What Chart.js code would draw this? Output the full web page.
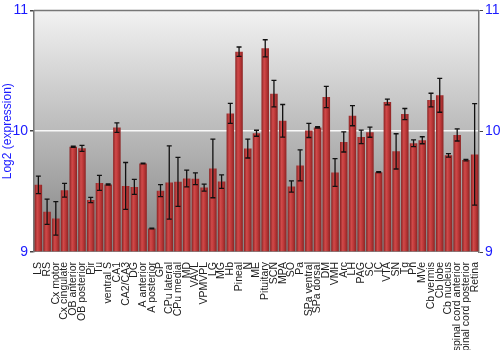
<!DOCTYPE html>
<html>
<head>
<meta charset="utf-8">
<script src="https://cdn.jsdelivr.net/npm/chart.js@4"></script>
<style>
  body { margin: 0; background: #fff; }
</style>
</head>
<body>
<canvas id="myChart" width="500" height="350"></canvas>
<script>
const regions = ["LS", "RS", "Cx motor", "Cx cingulate", "OB anterior", "OB posterior", "Pir", "Tu",
  "ventral S", "CA1", "CA2/CA3", "DG", "A anterior", "A posterior", "GP", "CPu lateral", "CPu medial",
  "MD", "VAVL", "VPMVPL", "LG", "MG", "Hb", "Pineal", "N", "ME", "Pituitary", "SCN", "MPA", "SO", "Pa",
  "SPa ventral", "SPa dorsal", "DM", "VMH", "Arc", "LH", "PAG", "SC", "IC", "VTA", "SN", "Tg", "Pn",
  "MVe", "Cb vermis", "Cb lobe", "Cb nucleus", "spinal cord anterior", "spinal cord posterior", "Retina"];

const expression = [9.556, 9.333, 9.278, 9.511, 9.872, 9.858, 9.431, 9.572,
  9.558, 10.03, 9.547, 9.539, 9.733, 9.194, 9.508, 9.575, 9.581,
  9.608, 9.606, 9.533, 9.692, 9.583, 10.147, 10.658, 9.856, 9.983, 10.686, 10.311, 10.086, 9.542, 9.717,
  10.006, 10.031, 10.283, 9.658, 9.911, 10.128, 9.953, 9.992, 9.661, 10.242, 9.833, 10.142, 9.9,
  9.925, 10.258, 10.297, 9.8, 9.969, 9.761, 9.808];

const errors = [0.072, 0.104, 0.139, 0.057, 0.005, 0.025, 0.022, 0.0625,
  0.005, 0.039, 0.194, 0.0625, 0.003, 0.003, 0.049, 0.303, 0.203,
  0.069, 0.049, 0.029, 0.243, 0.056, 0.083, 0.039, 0.078, 0.025, 0.071, 0.11, 0.135, 0.046, 0.128,
  0.058, 0.006, 0.0875, 0.115, 0.083, 0.083, 0.056, 0.042, 0.004, 0.024, 0.146, 0.046, 0.028,
  0.029, 0.056, 0.14, 0.014, 0.05, 0.006, 0.42];

const yTicks = [9, 10, 11];
const blue = "#1a1aff";

// grey gradient behind the plot, top border line
const backdrop = {
  id: "backdrop",
  beforeDraw(chart) {
    const a = chart.chartArea, c = chart.ctx;
    const g = c.createLinearGradient(0, a.top, 0, a.bottom);
    g.addColorStop(0, "#f2f2f2");
    g.addColorStop(1, "#828282");
    c.save();
    c.fillStyle = g;
    c.fillRect(a.left, a.top, a.right - a.left, a.bottom - a.top);
    c.restore();
  },
  afterDraw(chart) {
    const a = chart.chartArea, c = chart.ctx;
    c.save();
    c.strokeStyle = "#777";
    c.lineWidth = 1.5;
    c.beginPath();
    c.moveTo(a.left, a.top);
    c.lineTo(a.right, a.top);
    c.stroke();
    c.restore();
  }
};

// error bars from the errors array
const errorBars = {
  id: "errorBars",
  afterDatasetsDraw(chart) {
    const meta = chart.getDatasetMeta(0);
    const y = chart.scales.y, c = chart.ctx;
    c.save();
    c.strokeStyle = "#111";
    c.lineWidth = 1.3;
    meta.data.forEach((bar, i) => {
      const v = expression[i], e = errors[i];
      const top = y.getPixelForValue(v + e), bot = y.getPixelForValue(v - e);
      c.beginPath();
      c.moveTo(bar.x, top); c.lineTo(bar.x, bot);
      c.moveTo(bar.x - 2.5, top); c.lineTo(bar.x + 2.5, top);
      c.moveTo(bar.x - 2.5, bot); c.lineTo(bar.x + 2.5, bot);
      c.stroke();
    });
    c.restore();
  }
};

function barFill(ctx) {
  const chart = ctx.chart, a = chart.chartArea;
  if (!a || !chart.scales.x) return "#b83535";
  const x = chart.scales.x.getPixelForValue(ctx.dataIndex);
  const w = (a.right - a.left) / regions.length * 0.86;
  const g = chart.ctx.createLinearGradient(x - w / 2, 0, x + w / 2, 0);
  g.addColorStop(0, "#8a2222");
  g.addColorStop(0.35, "#d04a4a");
  g.addColorStop(0.6, "#c03a3a");
  g.addColorStop(1, "#8c2424");
  return g;
}

const ctx = document.getElementById("myChart").getContext("2d");
const myChart = new Chart(ctx, {
  type: "bar",
  data: {
    labels: regions,
    datasets: [{
      data: expression,
      backgroundColor: barFill,
      borderWidth: 0,
      barPercentage: 0.86,
      categoryPercentage: 1,
      base: 9
    }]
  },
  options: {
    responsive: false,
    animation: false,
    layout: { padding: { top: 10 } },
    plugins: { legend: { display: false }, tooltip: { enabled: false } },
    scales: {
      x: {
        grid: { display: false },
        border: { display: false },
        ticks: {
          autoSkip: false, maxRotation: 90, minRotation: 90, padding: 2,
          color: "#222", font: { family: "Liberation Sans, Arial, sans-serif", size: 10.5 }
        },
        afterFit(s) { s.height = 98; }
      },
      y: {
        position: "left",
        min: 9, max: 11,
        afterBuildTicks(s) { s.ticks = yTicks.map(v => ({ value: v })); },
        grid: {
          color: c => c.tick && c.tick.value === 10 ? "rgba(255,255,255,0.9)" : "rgba(0,0,0,0)",
          lineWidth: 1.5,
          tickColor: "#444", tickLength: 4
        },
        border: { color: "#777", width: 1.5 },
        ticks: { color: blue, padding: 2, font: { family: "Liberation Sans, Arial, sans-serif", size: 14 } },
        title: {
          display: true, text: "Log2 (expression)", color: blue, padding: 0,
          font: { family: "Liberation Sans, Arial, sans-serif", size: 12 }
        },
        afterFit(s) { s.width = 34; }
      },
      y2: {
        position: "right",
        min: 9, max: 11,
        afterBuildTicks(s) { s.ticks = yTicks.map(v => ({ value: v })); },
        grid: { drawOnChartArea: false, tickColor: "#444", tickLength: 4 },
        border: { color: "#777", width: 1.5 },
        ticks: { color: blue, padding: 2, font: { family: "Liberation Sans, Arial, sans-serif", size: 14 } },
        afterFit(s) { s.width = 21; }
      }
    }
  },
  plugins: [backdrop, errorBars]
});
</script>
</body>
</html>
